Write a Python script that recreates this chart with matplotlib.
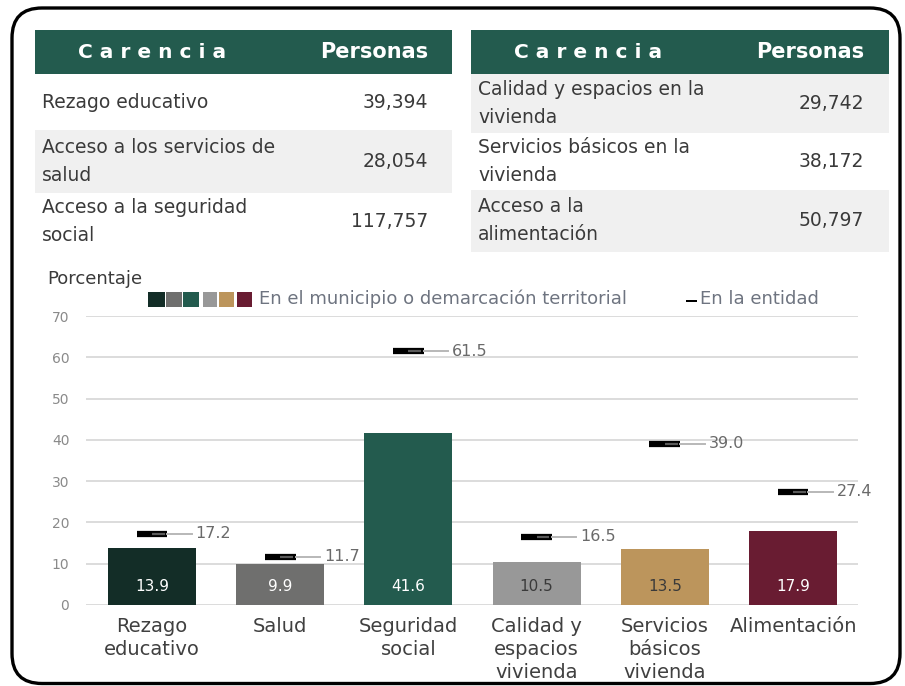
import matplotlib
matplotlib.use("Agg")
import matplotlib.pyplot as plt
from matplotlib.patches import Rectangle, FancyBboxPatch

plt.rcParams['font.family'] = ['DejaVu Sans']

# ---------------- data ----------------
categories = ["Rezago\neducativo", "Salud", "Seguridad\nsocial",
              "Calidad y\nespacios\nvivienda", "Servicios\nbásicos\nvivienda", "Alimentación"]
municipio = [13.9, 9.9, 41.6, 10.5, 13.5, 17.9]
entidad = [17.2, 11.7, 61.5, 16.5, 39.0, 27.4]
bar_colors = ["#132d27", "#6f6f6e", "#235b4e", "#989898", "#bc955c", "#691c32"]
label_colors = ["white", "white", "white", "#3a3a3a", "#3a3a3a", "white"]
yticks = [0, 10, 20, 30, 40, 50, 60, 70]

table_left_names = ["Rezago educativo", "Acceso a los servicios de\nsalud", "Acceso a la seguridad\nsocial"]
table_left_values = ["39,394", "28,054", "117,757"]
table_right_names = ["Calidad y espacios en la\nvivienda", "Servicios básicos en la\nvivienda", "Acceso a la\nalimentación"]
table_right_values = ["29,742", "38,172", "50,797"]

W, H = 905, 686
fig = plt.figure(figsize=(W / 100, H / 100), dpi=100)

def fx(x):
    return x / W

def fy(y):
    return 1 - y / H

GREEN = "#235b4e"
TXT = "#3a3a3a"

# ---------------- tables ----------------
def draw_table(x0, x1, rows_y, gray_rows, names, values, num_right):
    fig.add_artist(Rectangle((fx(x0), fy(74)), fx(x1 - x0), (74 - 30) / H,
                             transform=fig.transFigure, color=GREEN, lw=0))
    fig.text(fx(x0 + 43), fy(52), "C a r e n c i a", color="white", fontsize=14.5,
             fontweight="bold", va="center", ha="left")
    fig.text(fx(num_right), fy(52), "Personas", color="white", fontsize=15,
             fontweight="bold", va="center", ha="right")
    for (ya, yb), g, name, val in zip(rows_y, gray_rows, names, values):
        if g:
            fig.add_artist(Rectangle((fx(x0), fy(yb)), fx(x1 - x0), (yb - ya) / H,
                                     transform=fig.transFigure, color="#f0f0f0", lw=0))
        yc = (ya + yb) / 2
        fig.text(fx(x0 + 7), fy(yc), name, color=TXT, fontsize=13.5, va="center",
                 ha="left", linespacing=1.6)
        fig.text(fx(num_right), fy(yc), val, color=TXT, fontsize=13.5, va="center",
                 ha="right")

draw_table(35, 452, [(74, 130), (130, 193), (193, 250)], [False, True, False],
           table_left_names, table_left_values, 428)
draw_table(471, 889, [(74, 133), (133, 190), (190, 252)], [True, False, True],
           table_right_names, table_right_values, 864)

# ---------------- chart ----------------
ax = fig.add_axes([fx(86), fy(605), fx(858 - 86), (605 - 316) / H])
x = list(range(len(categories)))
ax.bar(x, municipio, width=0.685, color=bar_colors, zorder=3)
for i, (m, e) in enumerate(zip(municipio, entidad)):
    ax.text(i, 4.6, f"{m}", ha="center", va="center", color=label_colors[i],
            fontsize=11, zorder=5)
    ax.plot([i - 0.12, i + 0.12], [e, e], color="black", lw=4.5,
            solid_capstyle="butt", zorder=4)
    ax.plot([i + 0.0, i + 0.10], [e, e], color="#5a5a5a", lw=1.6,
            solid_capstyle="butt", zorder=5)
    ax.plot([i + 0.12, i + 0.31], [e, e], color="#b8b8b8", lw=1.4, zorder=4)
    ax.text(i + 0.34, e, f"{e:.1f}", ha="left", va="center", color="#6a6a6a",
            fontsize=11.5, zorder=5)

ax.set_xlim(-0.514, 5.506)
ax.set_ylim(0, 70)
ax.set_yticks(yticks)
ax.yaxis.grid(True, color="#d9d9d9", lw=1.3, zorder=0)
ax.set_axisbelow(True)
for s in ax.spines.values():
    s.set_visible(False)
ax.tick_params(axis="y", length=0, pad=12, labelsize=10, labelcolor="#8a8a8a")
ax.set_xticks(x)
ax.set_xticklabels(categories, fontsize=14, color="#404040", linespacing=1.26,
                   va="top")
ax.tick_params(axis="x", length=0, pad=9)

# y label
fig.text(fx(47), fy(279), "Porcentaje", fontsize=13, color=TXT, va="center", ha="left")

# legend
sq_x = [148, 166, 183, 203, 219, 237]
sq_w = [17, 16, 16, 14, 15, 15]
for c, xs, w in zip(bar_colors, sq_x, sq_w):
    fig.add_artist(Rectangle((fx(xs), fy(307)), fx(w), 15 / H,
                             transform=fig.transFigure, color=c, lw=0))
fig.text(fx(259), fy(299), "En el municipio o demarcación territorial", fontsize=13,
         color="#6e7480", va="center", ha="left")
fig.add_artist(Rectangle((fx(686), fy(302)), fx(11), 2.5 / H,
                         transform=fig.transFigure, color="black", lw=0))
fig.text(fx(700), fy(299), "En la entidad", fontsize=13, color="#6e7480",
         va="center", ha="left")

# outer frame
frame = FancyBboxPatch((0.12, 0.025), 8.88, 6.755,
                       boxstyle="round,pad=0,rounding_size=0.3",
                       transform=fig.dpi_scale_trans, fill=False,
                       edgecolor="black", lw=2.4, zorder=10)
fig.add_artist(frame)

fig.savefig("out.png", dpi=100)
